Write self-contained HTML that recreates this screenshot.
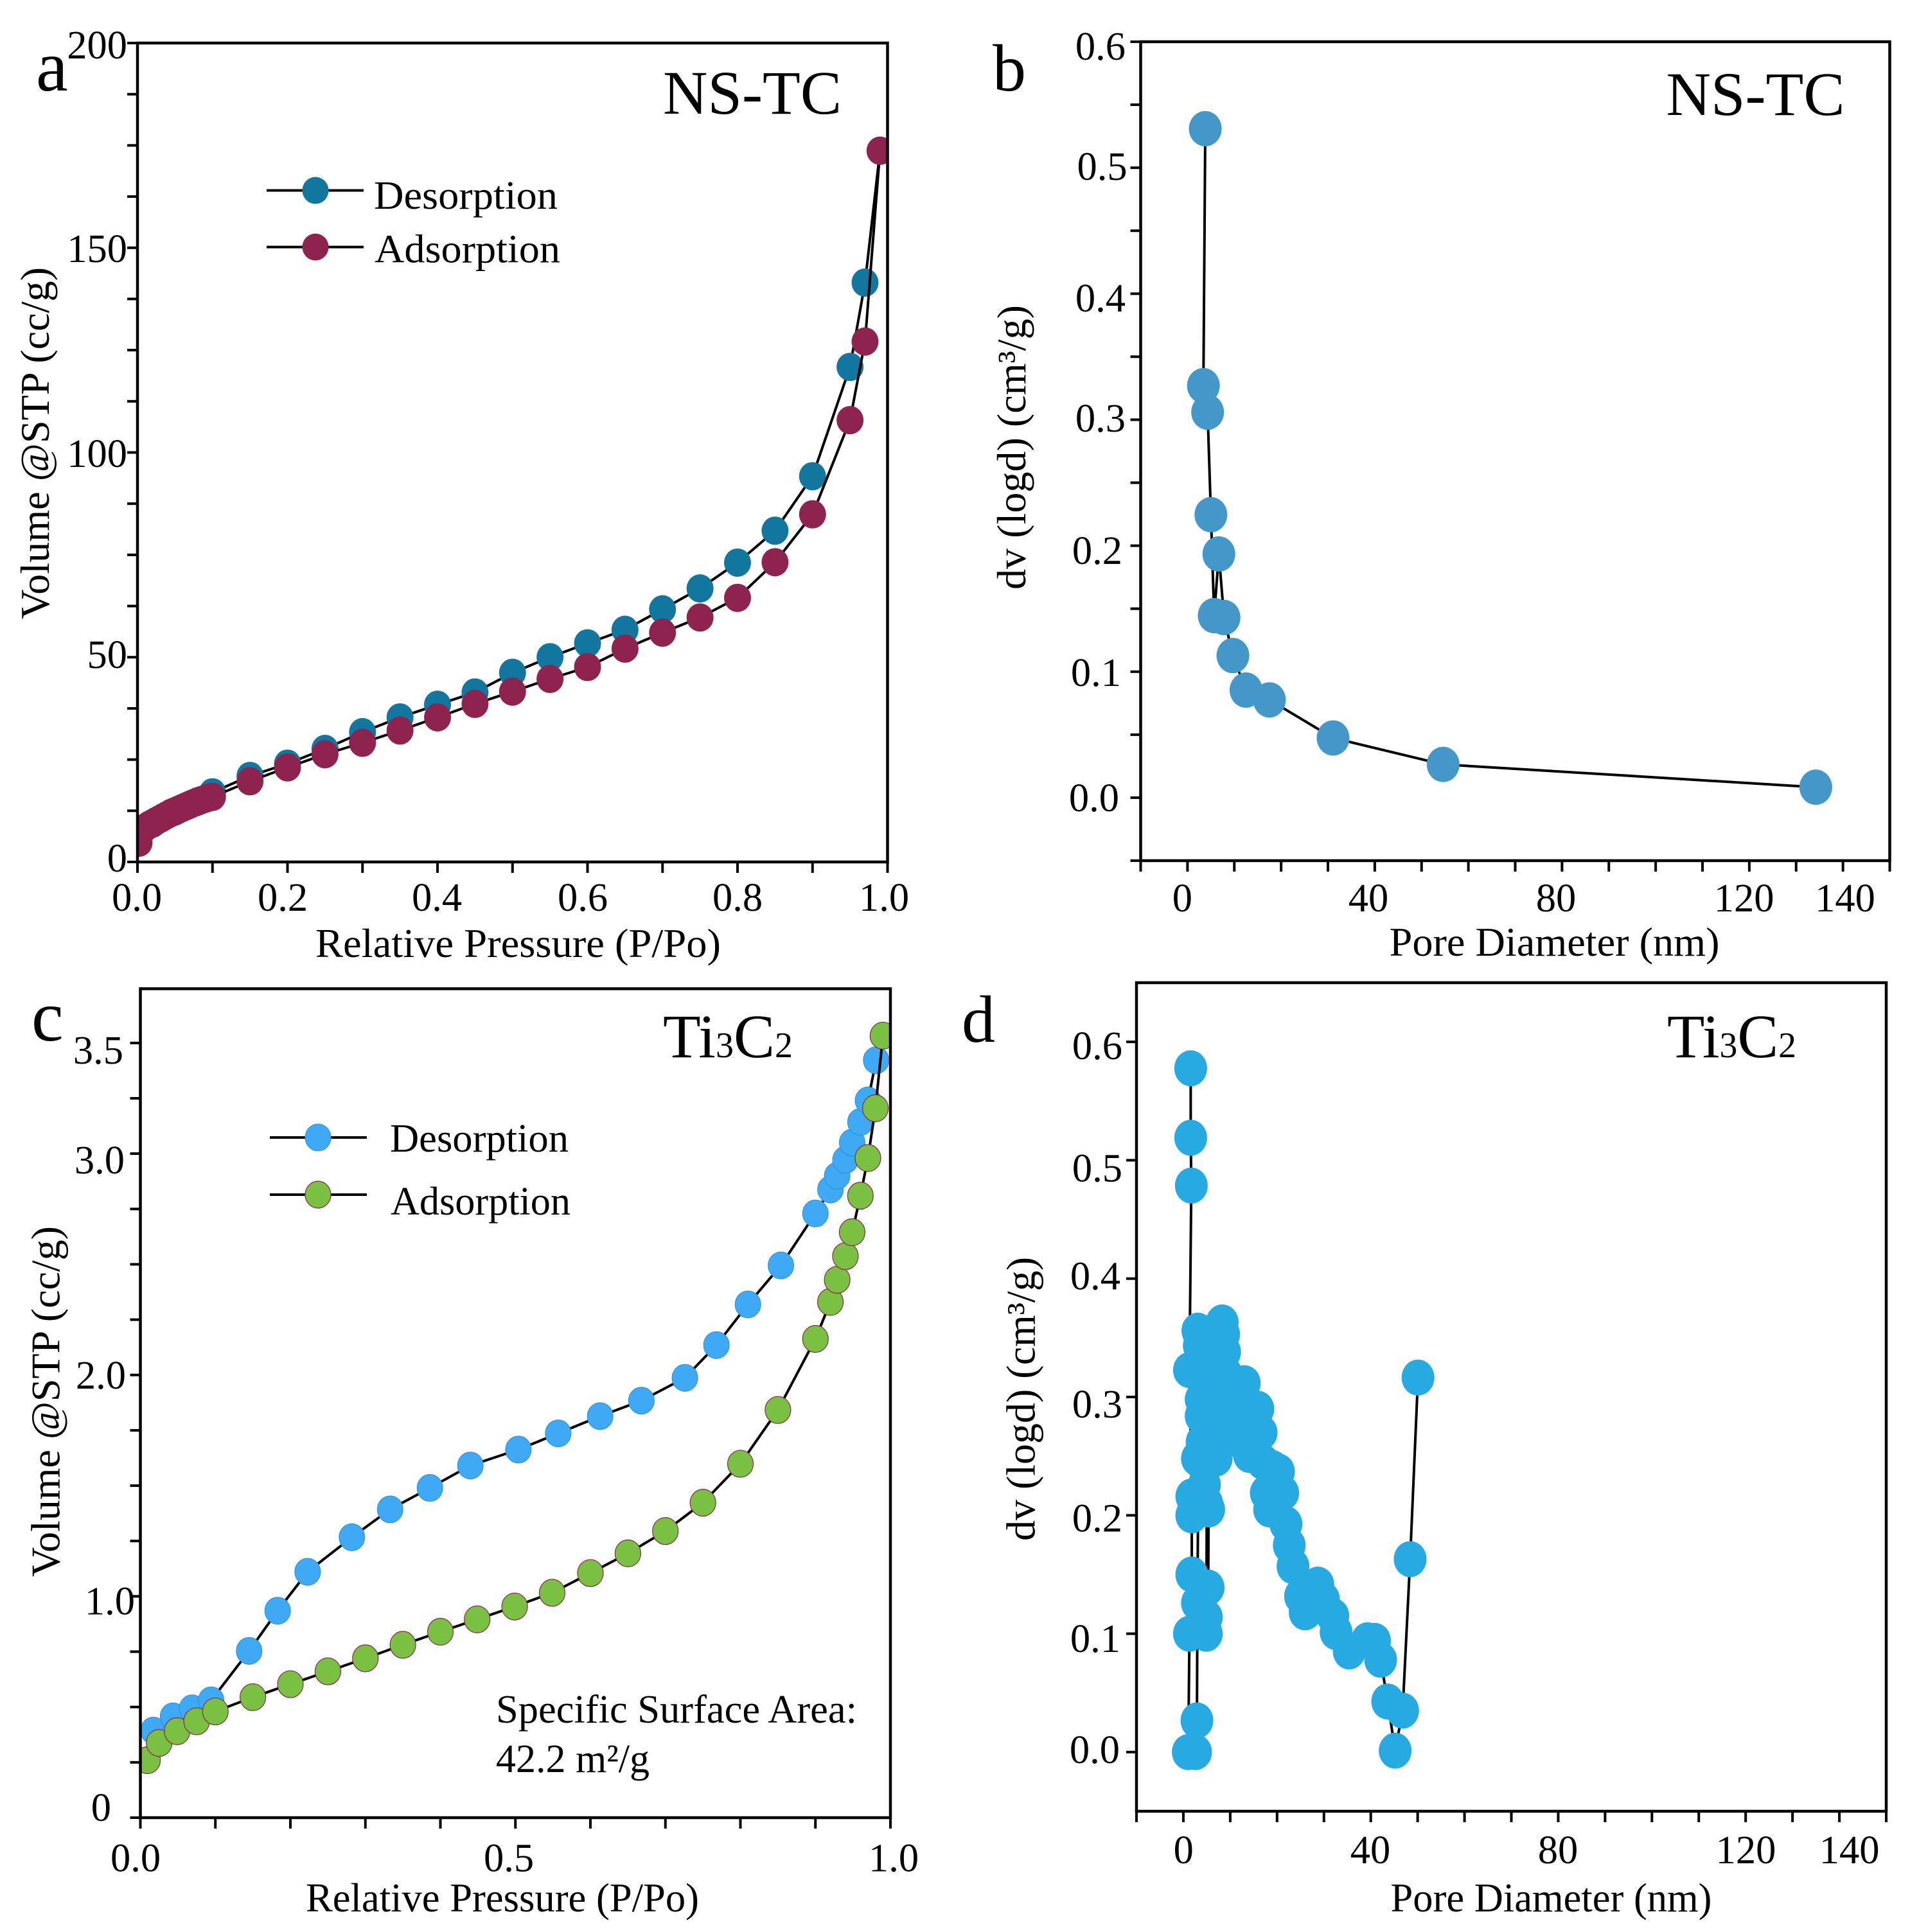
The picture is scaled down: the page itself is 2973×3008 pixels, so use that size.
<!DOCTYPE html>
<html lang="en">
<head>
<meta charset="utf-8">
<title>Nitrogen sorption isotherms and pore size distributions</title>
<style>
html,body{margin:0;padding:0;background:#fff;}
svg{display:block;}
text{font-family:"Liberation Serif",serif;fill:#000;}
.t{font-size:62.5px;}
.ti{font-size:63px;}
.h{font-size:96px;}
.l{font-size:104px;}
.l2{font-size:112px;}
</style>
</head>
<body>
<svg id="figure" xmlns="http://www.w3.org/2000/svg" width="2973" height="3008" viewBox="0 0 2973 3008">
<rect width="2973" height="3008" fill="#fff"/>

<g id="panel-a">
  <g id="a-plot"></g>
  <text class="l2" x="56" y="141">a</text>
  <text class="h" x="1032" y="177" textLength="278" lengthAdjust="spacingAndGlyphs">NS-TC</text>
  <g text-anchor="end" class="t">
    <text x="198" y="91">200</text>
    <text x="198" y="408">150</text>
    <text x="198" y="727">100</text>
    <text x="198" y="1040">50</text>
    <text x="198" y="1357">0</text>
  </g>
  <g text-anchor="middle" class="t">
    <text x="213" y="1418">0.0</text>
    <text x="440" y="1418">0.2</text>
    <text x="680" y="1418">0.4</text>
    <text x="907" y="1418">0.6</text>
    <text x="1148" y="1418">0.8</text>
    <text x="1376" y="1418">1.0</text>
  </g>
  <text class="ti" x="491" y="1490" textLength="631" lengthAdjust="spacingAndGlyphs">Relative Pressure (P/Po)</text>
  <text class="ti" transform="translate(76 964) rotate(-90)" textLength="548" lengthAdjust="spacingAndGlyphs">Volume @STP (cc/g)</text>
  <g>
    <line x1="415" x2="566" y1="296.5" y2="296.5" stroke="#000" stroke-width="4"/>
    <ellipse cx="491" cy="296.5" rx="20.5" ry="21" fill="#12769f"/>
    <text class="t" x="582" y="325" textLength="286" lengthAdjust="spacingAndGlyphs">Desorption</text>
    <line x1="415" x2="566" y1="384.6" y2="384.6" stroke="#000" stroke-width="4"/>
    <ellipse cx="491" cy="384.6" rx="20.5" ry="21" fill="#8e2350"/>
    <text class="t" x="583" y="408.5" textLength="289" lengthAdjust="spacingAndGlyphs">Adsorption</text>
  </g>
</g>

<g id="panel-b">
  <g id="b-plot"></g>
  <text class="l" x="1545" y="141">b</text>
  <text class="h" x="2593.5" y="179" textLength="278" lengthAdjust="spacingAndGlyphs">NS-TC</text>
  <g text-anchor="end" class="t">
    <text x="1752" y="93">0.6</text>
    <text x="1754.6" y="280">0.5</text>
    <text x="1752" y="485">0.4</text>
    <text x="1752" y="672">0.3</text>
    <text x="1747" y="878">0.2</text>
    <text x="1745" y="1068">0.1</text>
    <text x="1742" y="1263">0.0</text>
  </g>
  <g text-anchor="middle" class="t">
    <text x="1840.4" y="1419">0</text>
    <text x="2130" y="1419">40</text>
    <text x="2422" y="1419">80</text>
    <text x="2714.6" y="1419">120</text>
    <text x="2872" y="1419">140</text>
  </g>
  <text class="ti" x="2162.6" y="1488" textLength="514" lengthAdjust="spacingAndGlyphs">Pore Diameter (nm)</text>
  <text class="ti" transform="translate(1596 918) rotate(-90)" textLength="443" lengthAdjust="spacingAndGlyphs">dv (logd) (cm³/g)</text>
</g>

<g id="panel-c">
  <g id="c-plot"></g>
  <text class="l2" x="49" y="1620">c</text>
  <text class="h" x="1032" y="1646" textLength="202" lengthAdjust="spacingAndGlyphs">Ti<tspan font-size="56">3</tspan>C<tspan font-size="56">2</tspan></text>
  <g text-anchor="end" class="t">
    <text x="192" y="1656">3.5</text>
    <text x="194" y="1827">3.0</text>
    <text x="196" y="2162">2.0</text>
    <text x="210" y="2513.5">1.0</text>
    <text x="173" y="2835">0</text>
  </g>
  <g text-anchor="middle" class="t">
    <text x="211" y="2913.5">0.0</text>
    <text x="792" y="2913.5">0.5</text>
    <text x="1391" y="2913.5">1.0</text>
  </g>
  <text class="ti" x="476" y="2976" textLength="612" lengthAdjust="spacingAndGlyphs">Relative Pressure (P/Po)</text>
  <text class="ti" transform="translate(92.6 2455) rotate(-90)" textLength="546" lengthAdjust="spacingAndGlyphs">Volume @STP (cc/g)</text>
  <g>
    <line x1="420" x2="571" y1="1771" y2="1771" stroke="#000" stroke-width="4"/>
    <ellipse cx="495" cy="1771" rx="20" ry="21" fill="#3fa9f5" stroke="#2b8fd0" stroke-width="1"/>
    <text class="t" x="607" y="1793" textLength="278" lengthAdjust="spacingAndGlyphs">Desorption</text>
    <line x1="420" x2="571" y1="1860" y2="1860" stroke="#000" stroke-width="4"/>
    <ellipse cx="495" cy="1860" rx="20" ry="21" fill="#7ac143" stroke="#8e2350" stroke-width="1.2"/>
    <text class="t" x="608" y="1891" textLength="280" lengthAdjust="spacingAndGlyphs">Adsorption</text>
  </g>
  <text class="t" x="772" y="2682" textLength="562" lengthAdjust="spacingAndGlyphs">Specific Surface Area:</text>
  <text class="t" x="772" y="2759" textLength="239" lengthAdjust="spacingAndGlyphs">42.2 m²/g</text>
</g>

<g id="panel-d">
  <g id="d-plot"></g>
  <text class="l" x="1497" y="1622">d</text>
  <text class="h" x="2595" y="1646" textLength="201" lengthAdjust="spacingAndGlyphs">Ti<tspan font-size="56">3</tspan>C<tspan font-size="56">2</tspan></text>
  <g text-anchor="end" class="t">
    <text x="1747" y="1649">0.6</text>
    <text x="1747" y="1839.4">0.5</text>
    <text x="1744" y="2007.7">0.4</text>
    <text x="1747" y="2207">0.3</text>
    <text x="1747" y="2384.6">0.2</text>
    <text x="1744" y="2572">0.1</text>
    <text x="1743" y="2745">0.0</text>
  </g>
  <g text-anchor="middle" class="t">
    <text x="1842.3" y="2901">0</text>
    <text x="2133" y="2901">40</text>
    <text x="2425" y="2901">80</text>
    <text x="2717.5" y="2901">120</text>
    <text x="2878.6" y="2901">140</text>
  </g>
  <text class="ti" x="2164.5" y="2976" textLength="500" lengthAdjust="spacingAndGlyphs">Pore Diameter (nm)</text>
  <text class="ti" transform="translate(1610.6 2399) rotate(-90)" textLength="442" lengthAdjust="spacingAndGlyphs">dv (logd) (cm³/g)</text>
</g>
</svg>

<script>
/* ---------- chart data ---------- */
var aDesorptionP = [0.002,0.02,0.05,0.08,0.1,0.15,0.2,0.25,0.3,0.35,0.4,0.45,0.5,0.55,0.6,0.65,0.7,0.75,0.8,0.85,0.9,0.95,0.97,0.99];
var aDesorptionV = [5,9.3,12.3,14.7,17,21,24,27.6,31.7,35.3,38.4,41.4,46.2,50,53.4,56.7,61.7,66.8,73.1,80.9,94.2,120.9,141.5,173.7];
var aAdsorptionP = [0.002,0.004,0.008,0.012,0.016,0.02,0.025,0.03,0.035,0.04,0.045,0.05,0.055,0.06,0.065,0.07,0.075,0.08,0.085,0.09,0.095,0.1,0.15,0.2,0.25,0.3,0.35,0.4,0.45,0.5,0.55,0.6,0.65,0.7,0.75,0.8,0.85,0.9,0.95,0.97,0.99];
var aAdsorptionV = [4.7,7.5,8,8.6,9.1,9.5,10,10.5,11,11.5,12,12.4,12.8,13.2,13.6,14,14.4,14.8,15.1,15.4,15.7,15.9,19.7,23.1,26.3,29.1,32.1,35.3,38.6,41.6,44.7,47.6,52.1,56,59.7,64.5,73.2,84.9,107.9,127.1,173.7];

var bDiameter = [3.8,3.4,4.3,5,5.7,6.7,7.8,9.7,12.5,17.5,31.1,54.6,134.2];
var bVolume = [0.531,0.327,0.306,0.2246,0.1445,0.1934,0.143,0.1128,0.0854,0.0776,0.0474,0.0264,0.0083];

var cDesorptionP = [0.0174,0.0436,0.069,0.0944,0.145,0.183,0.223,0.282,0.333,0.386,0.44,0.504,0.557,0.613,0.668,0.726,0.768,0.81,0.854,0.9,0.92,0.929,0.94,0.949,0.96,0.97,0.981];
var cDesorptionV = [0.3935,0.4577,0.494,0.53,0.7535,0.935,1.111,1.267,1.393,1.49,1.591,1.663,1.736,1.814,1.884,1.987,2.135,2.319,2.495,2.73,2.838,2.9,2.972,3.05,3.143,3.24,3.422];
var cAdsorptionP = [0.0095,0.025,0.049,0.075,0.1,0.15,0.2,0.25,0.3,0.35,0.4,0.449,0.499,0.549,0.6,0.65,0.7,0.75,0.8,0.85,0.9,0.92,0.929,0.94,0.949,0.96,0.97,0.98,0.99];
var cAdsorptionV = [0.2596,0.3377,0.3907,0.4354,0.48,0.5443,0.603,0.661,0.72,0.781,0.84,0.896,0.954,1.016,1.105,1.194,1.295,1.423,1.599,1.842,2.163,2.33,2.43,2.537,2.645,2.81,2.98,3.205,3.533];

var dDiameter = [1.57,1.57,1.7,1.3,1.8,1.8,1.8,1.3,1.05,2.6,2.9,3,3.4,3.1,3.8,3.8,4,3,4.5,5.4,5.3,4.9,4.9,5,6,5,7,6,7,8.3,8.6,8.8,9,9,8,10,11,12,13,14,14.1,15,15.9,16.6,17,19,20.3,17.7,18.4,21.2,21.9,22.6,23.4,25,26,28.7,29.9,31.9,32.6,35.4,39.3,40.8,42.1,43.6,45.2,46.8,48.4,50.07];
var dVolume = [0.5777,0.519,0.4786,0.3227,0.216,0.2,0.15,0.1,0,0,0.0267,0.126,0.3435,0.356,0.298,0.284,0.262,0.248,0.226,0.205,0.139,0.114,0.1,0.21,0.26,0.33,0.248,0.3,0.32,0.363,0.353,0.338,0.32,0.28,0.26,0.27,0.29,0.3,0.3117,0.27,0.251,0.26,0.29,0.27,0.245,0.24,0.237,0.219,0.205,0.219,0.1927,0.1747,0.157,0.1317,0.118,0.1415,0.129,0.115,0.1013,0.085,0.0945,0.094,0.078,0.0427,0.0012,0.035,0.163,0.3164];

var aXTicks = [0,0.1,0.2,0.3,0.4,0.5,0.6,0.7,0.8,0.9,1];
var aYTicks = [0,12.5,25,37.5,50,62.5,75,87.5,100,112.5,125,137.5,150,162.5,175,187.5,200];
var bXTicks = [-10,0,10,20,30,40,50,60,70,80,90,100,110,120,130,140,150];
var bYTicks = [-0.05,0,0.05,0.1,0.15,0.2,0.25,0.3,0.35,0.4,0.45,0.5,0.55,0.6];
var cXTicks = [0,0.1,0.2,0.3,0.4,0.5,0.6,0.7,0.8,0.9,1];
var cYTicks = [0,0.25,0.5,0.75,1,1.25,1.5,1.75,2,2.25,2.5,2.75,3,3.25,3.5];
var dXTicks = [-10,0,10,20,30,40,50,60,70,80,90,100,110,120,130,140,150];
var dYTicks = [0,0.1,0.2,0.3,0.4,0.5,0.6];

/* ---------- helpers ---------- */
var NS = 'http://www.w3.org/2000/svg';
function mk(parent, tag, attrs) {
  var el = document.createElementNS(NS, tag);
  for (var k in attrs) { el.setAttribute(k, attrs[k]); }
  parent.appendChild(el);
  return el;
}
function scale(d0, d1, r0, r1) {
  return function (v) { return r0 + (v - d0) / (d1 - d0) * (r1 - r0); };
}
function drawTicks(g, box, xs, ys, xTicks, yTicks) {
  xTicks.forEach(function (v) {
    var t = mk(g, 'line', {x1: xs(v), x2: xs(v), y1: box.b, y2: box.b + 17, stroke: '#000', 'stroke-width': 4});
    
    
  });
  yTicks.forEach(function (v) {
    var t = mk(g, 'line', {x1: box.l - 16, x2: box.l, y1: ys(v), y2: ys(v), stroke: '#000', 'stroke-width': 4});
    
    
  });
}
function drawSeries(g, clip, name, xs, ys, xv, yv, style) {
  var pts = xv.map(function (v, i) { return xs(v) + ',' + ys(yv[i]); }).join(' ');
  var line = mk(g, 'polyline', {points: pts, fill: 'none', stroke: '#000', 'stroke-width': 4, 'stroke-linejoin': 'round', 'clip-path': 'url(#' + clip + ')'});
  
  
  xv.forEach(function (v, i) {
    var p = mk(g, 'ellipse', {cx: xs(v), cy: ys(yv[i]), rx: style.rx, ry: style.ry, fill: style.fill, stroke: style.stroke || 'none', 'stroke-width': style.sw || 0, 'clip-path': 'url(#' + clip + ')'});
    
    
  });
}
function drawFrame(g, box) {
  var f = mk(g, 'rect', {x: box.l, y: box.t, width: box.r - box.l, height: box.b - box.t, fill: 'none', stroke: '#000', 'stroke-width': 4.5});
  
  
}
function addClip(id, box) {
  var c = mk(document.getElementById('figure'), 'clipPath', {id: id});
  mk(c, 'rect', {x: box.l, y: box.t, width: box.r - box.l, height: box.b - box.t});
}

/* ---------- panel a ---------- */
(function () {
  var box = {l: 214, r: 1381.5, t: 67, b: 1342};
  var g = document.getElementById('a-plot');
  var xs = scale(0, 1, box.l, box.r), ys = scale(0, 200, box.b, box.t);
  addClip('clip-a', box);
  drawTicks(g, box, xs, ys, aXTicks, aYTicks);
  drawSeries(g, 'clip-a', 'desorption', xs, ys, aDesorptionP, aDesorptionV, {rx: 21, ry: 22, fill: '#12769f'});
  drawSeries(g, 'clip-a', 'adsorption', xs, ys, aAdsorptionP, aAdsorptionV, {rx: 21, ry: 22, fill: '#8e2350'});
  drawFrame(g, box);
})();

/* ---------- panel b ---------- */
(function () {
  var box = {l: 1775.5, r: 2941.5, t: 65, b: 1340};
  var g = document.getElementById('b-plot');
  var xs = scale(-10, 150, box.l, box.r), ys = scale(-0.05, 0.6, box.b, box.t);
  addClip('clip-b', box);
  drawTicks(g, box, xs, ys, bXTicks, bYTicks);
  drawSeries(g, 'clip-b', 'pore-distribution', xs, ys, bDiameter, bVolume, {rx: 25.5, ry: 27.5, fill: '#4398c9'});
  drawFrame(g, box);
})();

/* ---------- panel c ---------- */
(function () {
  var box = {l: 218.5, r: 1386, t: 1539.4, b: 2830};
  var g = document.getElementById('c-plot');
  var xs = scale(0, 1, box.l, box.r), ys = scale(0, 3.745, box.b, box.t);
  addClip('clip-c', box);
  drawTicks(g, box, xs, ys, cXTicks, cYTicks);
  drawSeries(g, 'clip-c', 'desorption', xs, ys, cDesorptionP, cDesorptionV, {rx: 20, ry: 21, fill: '#3fa9f5', stroke: '#2b8fd0', sw: 1});
  drawSeries(g, 'clip-c', 'adsorption', xs, ys, cAdsorptionP, cAdsorptionV, {rx: 20, ry: 21, fill: '#7ac143', stroke: '#8e2350', sw: 1.2});
  drawFrame(g, box);
})();

/* ---------- panel d ---------- */
(function () {
  var box = {l: 1769, r: 2936, t: 1530, b: 2820};
  var g = document.getElementById('d-plot');
  var xs = scale(-10, 150, box.l, box.r), ys = scale(-0.05, 0.65, box.b, box.t);
  addClip('clip-d', box);
  drawTicks(g, box, xs, ys, dXTicks, dYTicks);
  drawSeries(g, 'clip-d', 'pore-distribution', xs, ys, dDiameter, dVolume, {rx: 25.5, ry: 28, fill: '#27aae1'});
  drawFrame(g, box);
})();
</script>
</body>
</html>
